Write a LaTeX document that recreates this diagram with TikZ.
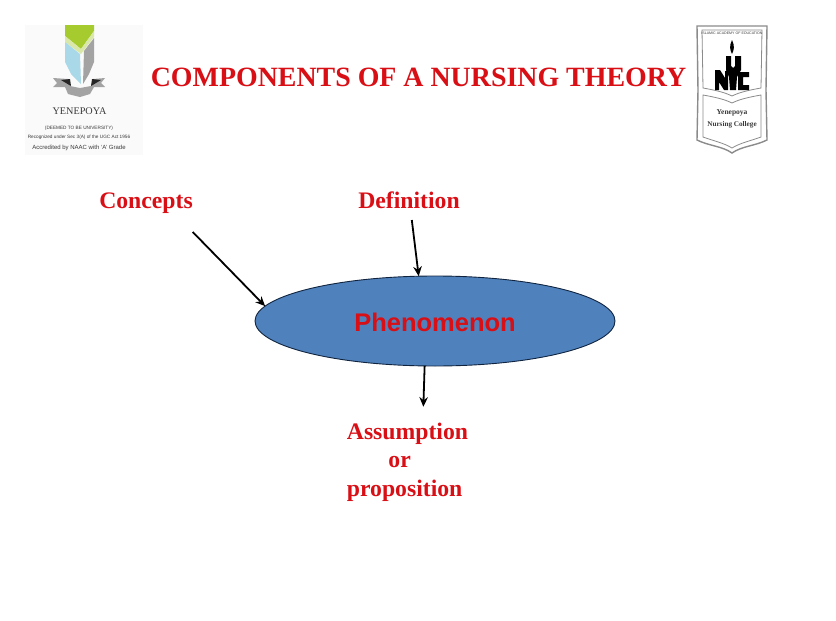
\documentclass[tikz,border=0pt]{standalone}
\usepackage{fontspec}
\setmainfont{Liberation Serif}
\setsansfont{Liberation Sans}
\usetikzlibrary{arrows.meta,shapes.geometric}
\definecolor{SlideRed}{HTML}{D90F16}
\definecolor{SlideBlue}{HTML}{4F81BD}
\definecolor{SlideNavy}{HTML}{10243F}
\definecolor{LogoGreen}{HTML}{A6CB2E}
\definecolor{LogoPale}{HTML}{D9E8A8}
\definecolor{LogoSky}{HTML}{A9D8E8}
\definecolor{LogoGrey}{HTML}{A3A3A3}
\definecolor{LogoInk}{HTML}{3A3A3A}
\tikzset{
  every node/.style={inner sep=0pt, outer sep=0pt},
  heading/.style={font=\fontsize{27.9}{30}\selectfont\bfseries, text=SlideRed},
  term/.style={font=\fontsize{23.7}{28.5}\selectfont\bfseries, text=SlideRed},
  focus/.style={ellipse, draw=SlideNavy, line width=0.9pt, fill=SlideBlue, minimum width=360pt, minimum height=90pt},
  focustext/.style={font=\sffamily\fontsize{25.5}{28}\selectfont\bfseries, text=SlideRed},
  link/.style={-{Stealth[length=3.4mm,width=3mm]}, draw=black, line width=1.8pt},
  logotext/.style={font=\sffamily\fontsize{4.7}{6}\selectfont, text=LogoInk},
  shieldline/.style={draw=LogoGrey!85!black, line width=1.4pt},
}
\begin{document}
\begin{tikzpicture}[x=1pt, y=-1pt]
  \useasboundingbox (0,0) rectangle (836,621);
  % Left logo
  \fill[black!2] (25,25) rectangle (143,155);
  \fill[LogoGreen] (65,25) -- (94,25) -- (94,31) -- (81,49) -- (65,36) -- cycle;
  \fill[LogoPale] (65,36) -- (81,49) -- (94,31) -- (94,37) -- (81,54) -- (65,42) -- cycle;
  \fill[LogoSky] (65,42) -- (80,54) -- (81,84) -- (71,74) -- (65,62) -- cycle;
  \fill[LogoGrey] (84,51) -- (94,38) -- (94,62) -- (89,74) -- (83,84) -- cycle;
  \fill[LogoGrey] (53,78) -- (68,79) -- (70,86) -- (80,88) -- (91,86) -- (93,79) -- (105,78) -- (101,83) -- (105,87) -- (94,87) -- (90,94) -- (80,97) -- (68,94) -- (65,87) -- (53,87) -- (57,83) -- cycle;
  \fill[black!85] (61,80) -- (70,79) -- (71,86) -- cycle;
  \fill[black!85] (91,86) -- (92,79) -- (101,80) -- cycle;
  \node[font=\fontsize{10.2}{12}\selectfont, text=LogoInk] (YenepoyaName) at (79.5,111) {YENEPOYA};
  \node[logotext] (YenepoyaDeemed) at (79,128) {(DEEMED TO BE UNIVERSITY)};
  \node[logotext] (YenepoyaAct) at (79,137.5) {Recognized under Sec 3(A) of the UGC Act 1956};
  \node[logotext, font=\sffamily\fontsize{6}{7}\selectfont] (YenepoyaGrade) at (79,148) {Accredited by NAAC with `A' Grade};
  % Right logo
  \draw[shieldline] (697,26) -- (767,26) -- (766,90) -- (767,140) .. controls (755,146) and (742,146) .. (732,153) .. controls (722,146) and (709,146) .. (697,140) -- (698,90) -- cycle;
  \draw[shieldline, line width=0.8pt] (702,30) -- (762,30) -- (761,88) .. controls (750,90) and (740,92) .. (732,96) .. controls (724,92) and (714,90) .. (703,88) -- cycle;
  \draw[shieldline, line width=0.8pt] (703,95) .. controls (714,97) and (724,99) .. (732,103) .. controls (740,99) and (750,97) .. (761,95) -- (761,137) .. controls (750,141) and (740,143) .. (732,148) .. controls (724,143) and (714,141) .. (703,137) -- cycle;
  \node[font=\sffamily\fontsize{3.6}{4}\selectfont, text=LogoInk] (NursingAcademy) at (732,33) {ISLAMIC ACADEMY OF EDUCATION};
  \fill[black] (732,40) .. controls (735,46) and (734,50) .. (732,54) .. controls (730,50) and (729,46) .. (732,40) -- cycle;
  \fill[black] (715,70) -- (720,70) -- (725,78) -- (725,71) -- (728,71) -- (728,90) -- (724,90) -- (719,82) -- (719,90) -- (715,90) -- cycle;
  \fill[black] (726,56) -- (731,56) -- (731,66) -- (733,68) -- (735,66) -- (735,56) -- (741,56) -- (741,70) -- (737,77) -- (736,90) -- (730,90) -- (729,77) -- (726,70) -- cycle;
  \fill[black] (738,72) -- (749,72) -- (749,77) -- (743,77) -- (743,85) -- (749,85) -- (749,90) -- (738,90) -- cycle;
  \node[font=\fontsize{7.5}{9}\selectfont\bfseries, text=LogoInk] (NursingYenepoya) at (732,113) {Yenepoya};
  \node[font=\fontsize{7.2}{9}\selectfont\bfseries, text=LogoInk] (NursingCollege) at (732,125) {Nursing College};
  % Title
  \node[heading] (Title) at (418.5,77) {COMPONENTS OF A NURSING THEORY};
  % Phenomenon and its terms
  \node[focus] (Phenomenon) at (435,321) {};
  \node[focustext] (PhenomenonText) at (435,322) {Phenomenon};
  \node[term, minimum height=58pt] (Concepts) at (146,203) {Concepts};
  \node[term, minimum height=40pt] (Definition) at (409,200) {Definition};
  \node[term, align=left, outer ysep=16pt] (Assumption) at (407.5,462) {Assumption\\[0pt]\hspace{41.5pt}or\\proposition};
  % Arrows
  \draw[link] (Concepts.south east) -- (Phenomenon.175);
  \draw[link] (Definition.-82) -- (Phenomenon.110);
  \draw[link] (Phenomenon.257.5) -- (Assumption.74);
\end{tikzpicture}
\end{document}
